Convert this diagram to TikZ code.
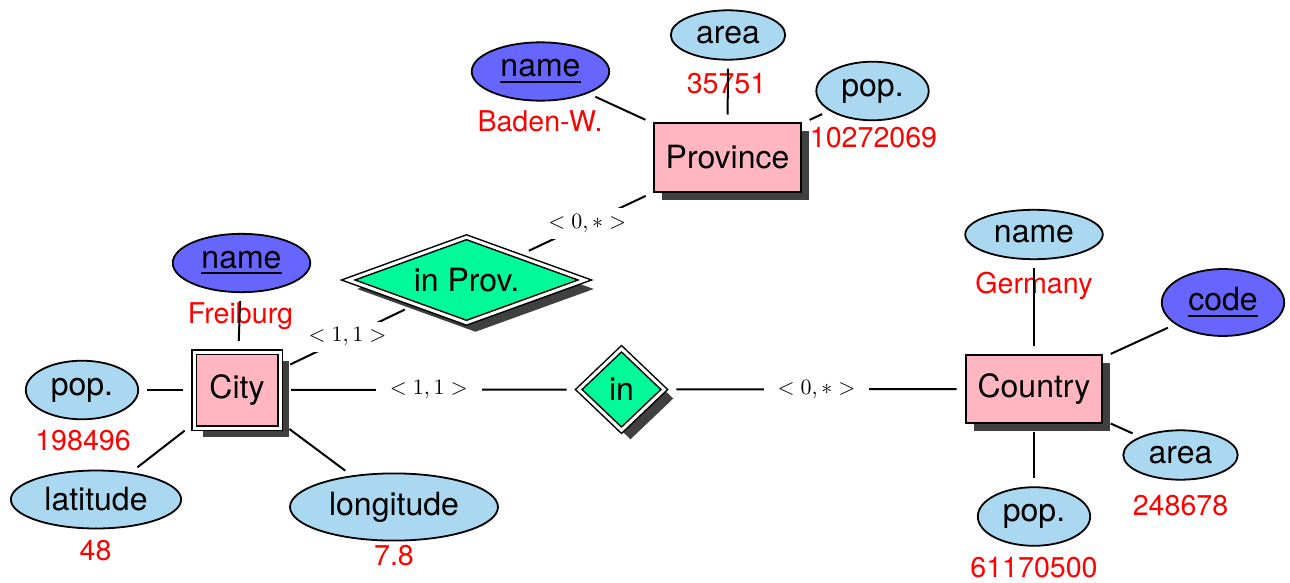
\documentclass[tikz,border=0pt]{standalone}
\usepackage[no-math]{fontspec}
\setmainfont{TeX Gyre Heros}
\usetikzlibrary{shapes.geometric,shadows}
\definecolor{attrblue}{RGB}{170,216,240}
\definecolor{keyblue}{RGB}{102,102,255}
\definecolor{entpink}{RGB}{255,182,193}
\definecolor{relgreen}{RGB}{0,250,154}
\definecolor{shadowgray}{RGB}{64,64,64}
\newcommand\keyul[1]{\setbox0\hbox{#1}\rlap{\rule[-3pt]{\wd0}{1pt}}\box0\rule[-3.4pt]{0pt}{1pt}}
\begin{document}
\begin{tikzpicture}[x=0.5pt,y=-0.5pt,
  bigfont/.style={font=\fontsize{16}{19}\selectfont},
  attr/.style={ellipse, draw, line width=0.9pt, fill=attrblue, inner sep=4.3pt, bigfont},
  keyattr/.style={attr, fill=keyblue},
  val/.style={text=red, anchor=base, inner sep=0pt, font=\fontsize{14.3}{17}\selectfont},
  shadowsingle/.style={drop shadow={shadow xshift=4pt, shadow yshift=-4pt, fill=shadowgray, opacity=1}},
  shadowdouble/.style={drop shadow={shadow xshift=4.5pt, shadow yshift=-4.5pt, fill=shadowgray, opacity=1}},
  entity/.style={rectangle, draw, line width=1pt, fill=entpink, inner xsep=6pt, minimum height=34pt, bigfont, shadowsingle},
  weakentity/.style={rectangle, draw, line width=0.75pt, double, double distance=1.5pt, outer sep=1.5pt, fill=entpink, minimum width=43pt, minimum height=38pt, bigfont, shadowdouble},
  relation/.style={diamond, draw, line width=0.75pt, double, double distance=1.5pt, outer sep=1.5pt, fill=relgreen, inner sep=0pt, aspect=2.7, bigfont, shadowdouble},
  conn/.style={line width=1pt, shorten <=4pt, shorten >=4pt},
  card/.style={fill=white, inner xsep=7pt, inner ysep=3pt, font=\fontsize{10.8}{13}\selectfont}]
\useasboundingbox (0,0) rectangle (1290,583);

% entities and relationships
\node[entity] (province) at (727.5,157.5) {Province};
\node[weakentity] (city) at (237,390) {City};
\node[entity] (country) at (1034,389) {Country};
\node[relation, minimum width=119.5pt, minimum height=44pt] (inprov) at (466.5,280) {in Prov.};
\node[relation, aspect=1, minimum width=44pt, minimum height=42pt] (in) at (621.5,389.5) {in};

% attributes
\node[attr] (parea) at (728,35) {area};
\node[keyattr] (pname) at (540.5,71.5) {\keyul{name}};
\node[attr] (ppop) at (872.5,91) {pop.};
\node[keyattr] (cname) at (241.5,263) {\keyul{name}};
\node[attr] (cpop) at (82,390) {pop.};
\node[attr] (clat) at (96,499.5) {latitude};
\node[attr] (clong) at (394,507) {longitude};
\node[attr] (kname) at (1034,234.5) {name};
\node[keyattr] (kcode) at (1223,302.5) {\keyul{code}};
\node[attr] (karea) at (1180.5,455) {area};
\node[attr] (kpop) at (1034,516.5) {pop.};

% values
\node[val] (vpname) at (540,132) {Baden-W.};
\node[val] (vparea) at (726.5,94) {35751};
\node[val] (vppop) at (873.5,148) {10272069};
\node[val] (vcname) at (240.5,323) {Freiburg};
\node[val] (vcpop) at (83,450) {198496};
\node[val] (vclat) at (95.5,560) {48};
\node[val] (vclong) at (394,565) {7.8};
\node[val] (vkname) at (1034,293) {Germany};
\node[val] (vkarea) at (1180.5,515) {248678};
\node[val] (vkpop) at (1034,577) {61170500};

% connectors
\draw[conn] (parea) -- (province);
\draw[conn] (pname) -- (province);
\draw[conn] (ppop) -- (province);
\draw[conn] (inprov) -- node[card] {$<0,*>$} (province);
\draw[conn] (city) -- node[card] {$<1,1>$} (inprov);
\draw[conn] (cname) -- (city);
\draw[conn] (cpop) -- (city);
\draw[conn] (clat) -- (city);
\draw[conn] (clong) -- (city);
\draw[conn] (city) -- node[card] {$<1,1>$} (in);
\draw[conn] (in) -- node[card] {$<0,*>$} (country);
\draw[conn] (kname) -- (country);
\draw[conn] (kcode) -- (country);
\draw[conn] (karea) -- (country);
\draw[conn] (kpop) -- (country);
\end{tikzpicture}
\end{document}
